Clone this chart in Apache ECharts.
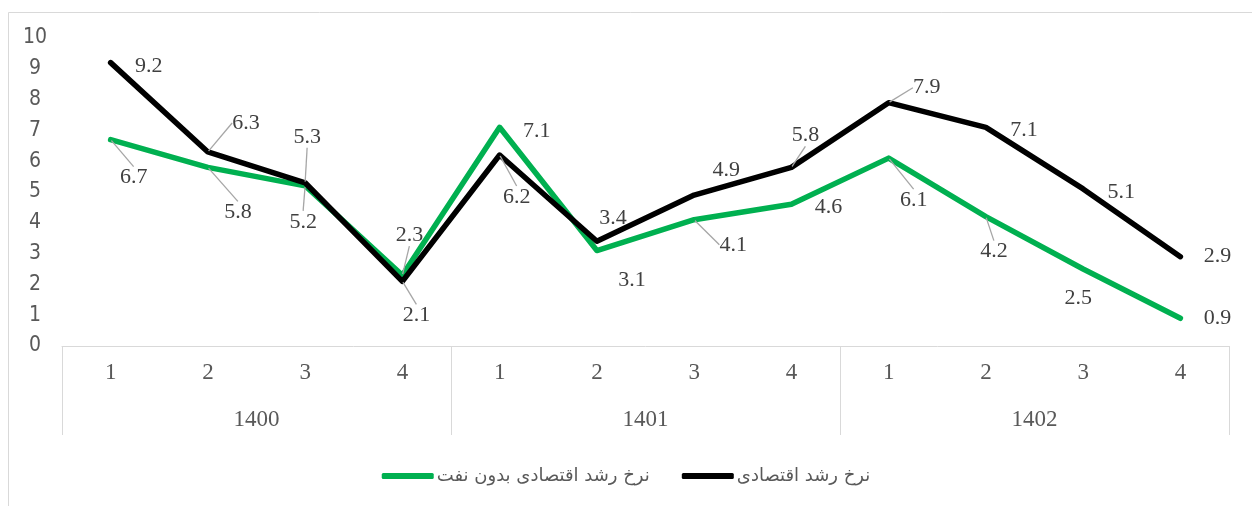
<!DOCTYPE html>
<html>
<head>
<meta charset="utf-8">
<script src="https://cdn.jsdelivr.net/npm/echarts@6/dist/echarts.min.js"></script>
<style>
  html, body { margin: 0; padding: 0; background: #fff; }
  #chart { width: 1252px; height: 506px; }
</style>
</head>
<body>
<div id="chart"></div>
<script>
// quarters within each year, and the years
const quarters = ["1", "2", "3", "4", "1", "2", "3", "4", "1", "2", "3", "4"];
const years = ["1400", "1401", "1402"];

// growth rates (%)
const growthNonOil = [6.7, 5.8, 5.2, 2.3, 7.1, 3.1, 4.1, 4.6, 6.1, 4.2, 2.5, 0.9];
const growthTotal = [9.2, 6.3, 5.3, 2.1, 6.2, 3.4, 4.9, 5.8, 7.9, 7.1, 5.1, 2.9];

const nameNonOil = "نرخ رشد اقتصادی بدون نفت";
const nameTotal = "نرخ رشد اقتصادی";

// label placement relative to the point: [dx, dy, leader line]
const nonOilLabelPos = [
  [23, 38, true], [30, 45, true], [-2, 36, true], [7, -40, true],
  [37, 4, false], [35, 30, false], [39, 25, true], [37, 3, false],
  [25, 42, true], [8, 35, true], [-5, 29, false], [37, 0, false]
];
const totalLabelPos = [
  [38, 4, false], [38, -29, true], [2, -46, true], [14, 34, true],
  [17, 42, true], [16, -23, false], [32, -25, false], [14, -32, true],
  [38, -15, true], [38, 3, false], [38, 3, false], [37, 0, false]
];

const chart = echarts.init(document.getElementById("chart"));

const labelFont = { fontFamily: "Liberation Serif", fontSize: 22, color: "#404040" };

function makeData(values, pos) {
  return values.map((v, i) => ({
    value: v,
    labelLine: { show: pos[i][2] }
  }));
}

function layoutFor(pos) {
  return (params) => ({ dx: pos[params.dataIndex][0], dy: pos[params.dataIndex][1] });
}

const option = {
  backgroundColor: "#fff",
  animation: false,
  graphic: [{
    type: "rect",
    shape: { x: 8.5, y: 12.5, width: 1300, height: 600 },
    style: { fill: "none", stroke: "#d9d9d9", lineWidth: 1 },
    silent: true
  }],
  legend: {
    top: 462,
    left: "center",
    data: [nameNonOil, nameTotal],
    icon: "roundRect",
    itemWidth: 52,
    itemHeight: 6,
    itemGap: 32,
    textStyle: { fontFamily: "DejaVu Sans", fontSize: 18, color: "#595959", padding: [0, 0, 0, -2] }
  },
  grid: { left: 62, right: 23, top: 38, bottom: 160 },
  xAxis: [
    {
      type: "category",
      data: quarters,
      boundaryGap: true,
      axisLine: { show: true, lineStyle: { color: "#d9d9d9", width: 1 } },
      axisTick: { show: false },
      axisLabel: { margin: 15, fontFamily: "Liberation Serif", fontSize: 23, color: "#595959" },
      splitLine: { show: false }
    },
    {
      type: "category",
      data: years,
      position: "bottom",
      boundaryGap: true,
      axisLine: { show: false },
      axisTick: { show: true, length: 89, lineStyle: { color: "#d9d9d9", width: 1 } },
      axisLabel: { margin: 62, fontFamily: "Liberation Serif", fontSize: 23, color: "#595959" },
      splitLine: { show: false }
    }
  ],
  yAxis: {
    type: "value",
    min: 0,
    max: 10,
    interval: 1,
    axisLine: { show: false },
    axisTick: { show: false },
    splitLine: { show: false },
    axisLabel: {
      margin: 27,
      align: "center",
      fontFamily: "Liberation Sans Narrow, DejaVu Sans Condensed, DejaVu Sans",
      fontSize: 21,
      color: "#595959"
    }
  },
  series: [
    {
      name: nameNonOil,
      type: "line",
      data: makeData(growthNonOil, nonOilLabelPos),
      symbol: "circle",
      symbolSize: 2,
      showSymbol: true,
      itemStyle: { color: "#00b050" },
      lineStyle: { color: "#00b050", width: 5.5, cap: "round", join: "round" },
      label: Object.assign({ show: true, position: "inside" }, labelFont),
      labelLine: { show: true, lineStyle: { color: "#a6a6a6", width: 1.3 } },
      labelLayout: layoutFor(nonOilLabelPos),
      z: 2
    },
    {
      name: nameTotal,
      type: "line",
      data: makeData(growthTotal, totalLabelPos),
      symbol: "circle",
      symbolSize: 2,
      showSymbol: true,
      itemStyle: { color: "#000" },
      lineStyle: { color: "#000", width: 5.5, cap: "round", join: "round" },
      label: Object.assign({ show: true, position: "inside" }, labelFont),
      labelLine: { show: true, lineStyle: { color: "#a6a6a6", width: 1.3 } },
      labelLayout: layoutFor(totalLabelPos),
      z: 3
    }
  ]
};

chart.setOption(option);
</script>
</body>
</html>
